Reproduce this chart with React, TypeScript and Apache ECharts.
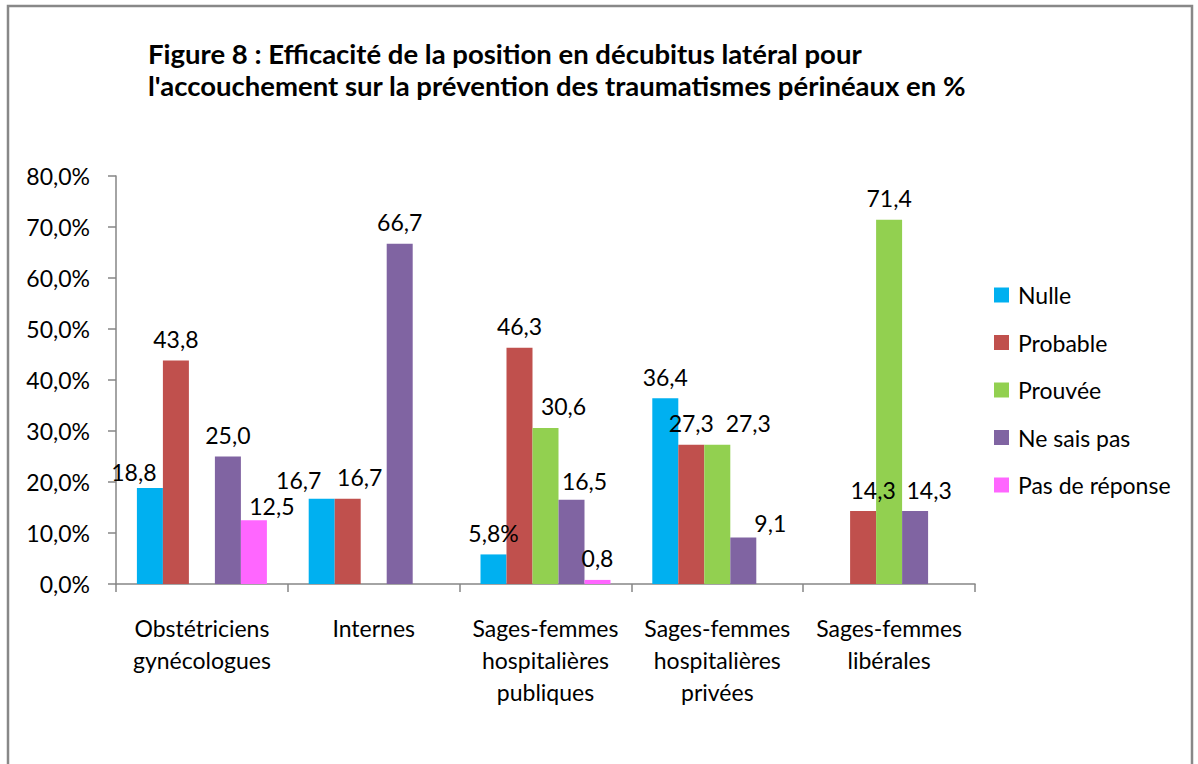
import React, { useEffect, useRef } from "react";
import * as echarts from "echarts";

const categories = [
  "Obstétriciens\ngynécologues",
  "Internes",
  "Sages-femmes\nhospitalières\npubliques",
  "Sages-femmes\nhospitalières\nprivées",
  "Sages-femmes\nlibérales",
];
const seriesNames = ["Nulle", "Probable", "Prouvée", "Ne sais pas", "Pas de réponse"];
const nulle = [18.8, 16.7, 5.8, 36.4, null];
const probable = [43.8, 16.7, 46.3, 27.3, 14.3];
const prouvee = [null, null, 30.6, 27.3, 71.4];
const neSaisPas = [25.0, 66.7, 16.5, 9.1, 14.3];
const pasDeReponse = [12.5, null, 0.8, null, null];
const yTicks = [0, 10, 20, 30, 40, 50, 60, 70, 80];

const seriesData = [nulle, probable, prouvee, neSaisPas, pasDeReponse];
const colors = ["#00B0F0", "#C0504D", "#92D050", "#8064A2", "#FF66FF"];
// label nudges keyed "series-category" => [dx, dy]
const nudges: Record<string, [number, number]> = {
  "0-0": [-16, 5],
  "4-0": [18, 7],
  "0-1": [-23, 3],
  "1-1": [12, 0],
  "2-2": [18, 0],
  "3-2": [13, 3],
  "2-3": [31, 0],
  "3-3": [27, 7],
  "1-4": [10, 0],
  "3-4": [14, 0],
};
const percentLabels = new Set(["0-2"]);

const FONT = "Lato, 'Open Sans', sans-serif";

export default function App() {
  const ref = useRef<HTMLDivElement>(null);
  useEffect(() => {
    if (!ref.current) return;
    const chart = echarts.init(ref.current, undefined, { renderer: "svg" });
    const fmt = (v: number) => v.toFixed(1).replace(".", ",");
    const series = seriesNames.map((name, si) => ({
      name,
      type: "bar",
      barWidth: 26,
      barGap: "0%",
      itemStyle: { color: colors[si] },
      data: seriesData[si].map((v, ci) => {
        const key = `${si}-${ci}`;
        const n = nudges[key] || [0, 0];
        return {
          value: v,
          label: {
            show: v !== null,
            position: "top",
            distance: 10,
            offset: n,
            color: "#000",
            fontSize: 23,
            fontFamily: FONT,
            formatter: () => (v === null ? "" : fmt(v) + (percentLabels.has(key) ? "%" : "")),
          },
        };
      }),
    }));
    chart.setOption({
      animation: false,
      backgroundColor: "#fff",
      textStyle: { fontFamily: FONT },
      title: {
        text: "Figure 8 : Efficacité de la position en décubitus latéral pour\nl'accouchement sur la prévention des traumatismes périnéaux en %",
        left: 148,
        top: 37,
        padding: 0,
        textStyle: { fontSize: 27.5, fontWeight: "bold", color: "#000", lineHeight: 32, fontFamily: FONT },
      },
      graphic: [
        {
          type: "rect",
          shape: { x: 8, y: 6, width: 1184, height: 820 },
          style: { fill: "none", stroke: "#888888", lineWidth: 2.5 },
          silent: true,
        },
      ],
      legend: {
        orient: "vertical",
        left: 994,
        top: 283,
        padding: 0,
        itemWidth: 15,
        itemHeight: 15,
        itemGap: 23.5,
        icon: "rect",
        data: seriesNames,
        textStyle: { fontSize: 23, color: "#000", lineHeight: 24, padding: [0, 0, 0, 4], fontFamily: FONT },
      },
      grid: { left: 116, top: 176, right: 223, bottom: 180 },
      xAxis: {
        type: "category",
        data: categories,
        axisLine: { lineStyle: { color: "#868686", width: 1.5 } },
        axisTick: { show: true, length: 8, lineStyle: { color: "#868686", width: 1.5 } },
        axisLabel: { color: "#000", fontSize: 23, lineHeight: 32, margin: 28, interval: 0, fontFamily: FONT },
      },
      yAxis: {
        type: "value",
        min: yTicks[0],
        max: yTicks[yTicks.length - 1],
        interval: 10,
        splitLine: { show: false },
        axisLine: { show: true, lineStyle: { color: "#868686", width: 1.5 } },
        axisTick: { show: true, length: 8, lineStyle: { color: "#868686", width: 1.5 } },
        axisLabel: {
          color: "#000",
          fontSize: 23,
          margin: 26,
          fontFamily: FONT,
          formatter: (v: number) => v.toFixed(1).replace(".", ",") + "%",
        },
      },
      series,
    });
    return () => chart.dispose();
  }, []);
  return (
    <div
      ref={ref}
      style={{ position: "absolute", left: 0, top: 0, width: 1198, height: 764, background: "#fff" }}
    />
  );
}
